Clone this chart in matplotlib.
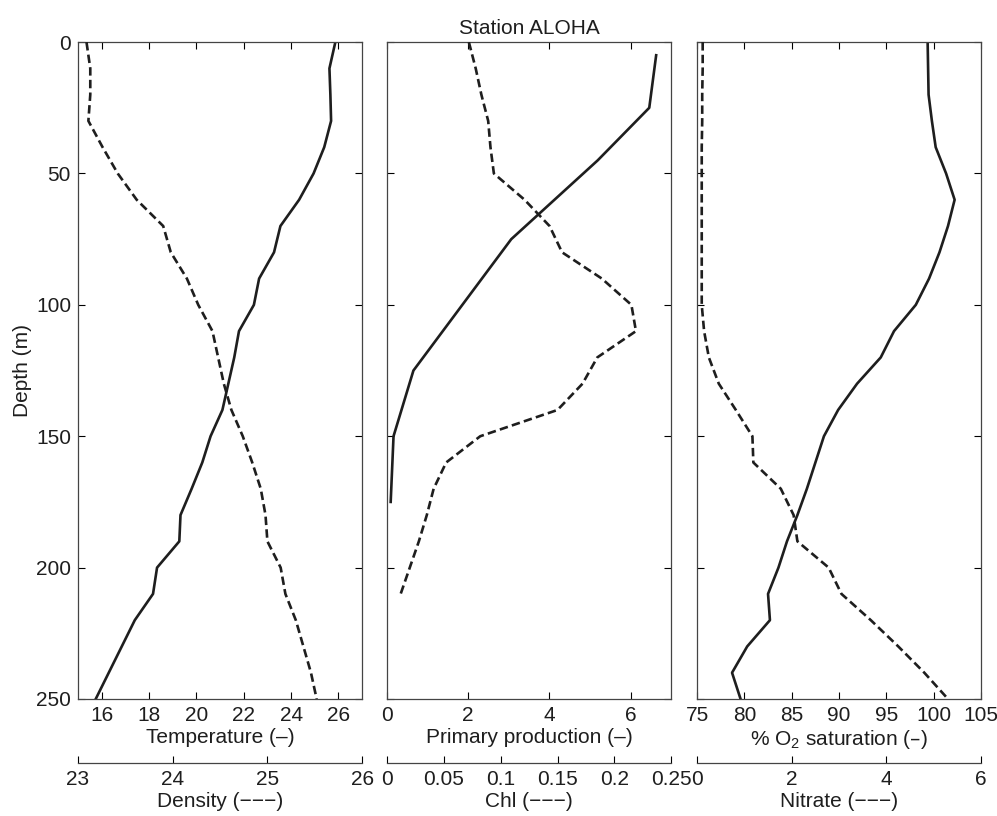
import matplotlib.pyplot as plt

plt.rcParams['font.family'] = ['Liberation Sans', 'DejaVu Sans']
plt.rcParams['mathtext.default'] = 'regular'

# depth grid (m)
depth = [0, 10, 20, 30, 40, 50, 60, 70, 80, 90, 100, 110, 120, 130, 140,
         150, 160, 170, 180, 190, 200, 210, 220, 230, 240, 250]

temperature = [25.87, 25.62, 25.66, 25.69, 25.4, 24.95, 24.34, 23.55, 23.28, 22.65,
               22.43, 21.8, 21.6, 21.35, 21.1, 20.6, 20.25, 19.8, 19.33, 19.28,
               18.34, 18.17, 17.4, 16.85, 16.3, 15.75]
density = [23.09, 23.13, 23.13, 23.11, 23.26, 23.42, 23.62, 23.9, 23.98, 24.15,
           24.27, 24.42, 24.48, 24.54, 24.62, 24.74, 24.84, 24.93, 24.98, 25.0,
           25.14, 25.19, 25.3, 25.38, 25.46, 25.52]

pp_depth = [5, 25, 45, 75, 125, 150, 175]
primary_production = [6.63, 6.46, 5.19, 3.06, 0.65, 0.16, 0.09]

chl_depth = [0, 10, 20, 30, 40, 50, 60, 70, 80, 90, 100, 110, 120, 130, 140,
             150, 160, 170, 180, 190, 200, 210]
chl = [0.072, 0.078, 0.083, 0.089, 0.091, 0.094, 0.121, 0.143, 0.154, 0.189, 0.215,
       0.219, 0.185, 0.172, 0.150, 0.082, 0.052, 0.041, 0.035, 0.028, 0.020, 0.012]

o2_sat = [99.35, 99.4, 99.45, 99.8, 100.2, 101.3, 102.2, 101.5, 100.6, 99.5,
          98.1, 95.8, 94.4, 91.9, 89.9, 88.4, 87.5, 86.6, 85.6, 84.5,
          83.6, 82.5, 82.7, 80.3, 78.7, 79.6]
nitrate = [0.12, 0.12, 0.11, 0.11, 0.1, 0.1, 0.1, 0.1, 0.1, 0.1,
           0.1, 0.15, 0.25, 0.46, 0.82, 1.17, 1.19, 1.77, 2.04, 2.12,
           2.78, 3.05, 3.67, 4.25, 4.8, 5.3]

depth_ticks = [0, 50, 100, 150, 200, 250]
temp_ticks = [16, 18, 20, 22, 24, 26]
dens_ticks = [23, 24, 25, 26]
pp_ticks = [0, 2, 4, 6]
chl_ticks = [0, 0.05, 0.1, 0.15, 0.2, 0.25]
chl_labels = ['0', '0.05', '0.1', '0.15', '0.2', '0.25']
o2_ticks = [75, 80, 85, 90, 95, 100, 105]
nit_ticks = [0, 2, 4, 6]

ink = '#1e1e1e'
fs = 15

fig = plt.figure(figsize=(9.97, 8.16), dpi=100)

panels = [
    # left, (x, y), xlim, ticks, label, (x2, y2), xlim2, ticks2, ticklabels2, label2
    (0.0782, (temperature, depth), (15, 27), temp_ticks, 'Temperature (–)',
     (density, depth), (23, 26), dens_ticks, None, 'Density (−−−)'),
    (0.3882, (primary_production, pp_depth), (0, 7), pp_ticks, 'Primary production (–)',
     (chl, chl_depth), (0, 0.25), chl_ticks, chl_labels, 'Chl (−−−)'),
    (0.6991, (o2_sat, depth), (75, 105), o2_ticks, '% O$_2$ saturation (–)',
     (nitrate, depth), (0, 6), nit_ticks, None, 'Nitrate (−−−)'),
]

axes = []
for i, (left, (x, y), xlim, ticks, label, (x2, y2), xlim2, ticks2, labels2, label2) in enumerate(panels):
    ax = fig.add_axes([left, 0.1434, 0.2850, 0.805])
    ax.plot(x, y, color=ink, lw=1.9, solid_joinstyle='round')
    ax.set_xlim(*xlim)
    ax.set_ylim(250, 0)
    ax.set_xticks(ticks)
    ax.set_yticks(depth_ticks)
    ax.set_xlabel(label, fontsize=fs, color=ink, labelpad=2)

    ax2 = ax.twiny()
    ax2.plot(x2, y2, color=ink, lw=1.9, dashes=(3.2, 1.6))
    ax2.set_xlim(*xlim2)
    ax2.set_ylim(250, 0)
    ax2.xaxis.set_ticks_position('bottom')
    ax2.xaxis.set_label_position('bottom')
    for s in ['top', 'left', 'right']:
        ax2.spines[s].set_visible(False)
    ax2.spines['bottom'].set_position(('outward', 46))
    ax2.spines['bottom'].set_color('#444444')
    ax2.spines['bottom'].set_linewidth(0.9)
    if labels2 is None:
        ax2.set_xticks(ticks2)
    else:
        ax2.set_xticks(ticks2, labels2)
    ax2.tick_params(axis='x', direction='in', length=5, width=0.8,
                    labelsize=fs, labelcolor=ink, pad=5)
    ax2.set_xlabel(label2, fontsize=fs, color=ink, labelpad=2)

    ax.tick_params(direction='in', top=True, right=True, bottom=True, left=True,
                   length=5, width=0.8, labelsize=fs, labelcolor=ink, pad=5)
    if i > 0:
        ax.tick_params(labelleft=False)
    for s in ax.spines.values():
        s.set_color('#444444')
        s.set_linewidth(0.9)
    axes.append(ax)

axes[0].set_ylabel('Depth (m)', fontsize=fs, color=ink, labelpad=3)
axes[1].set_title('Station ALOHA', fontsize=fs, color=ink, pad=6)

fig.savefig('out.png', dpi=100)
